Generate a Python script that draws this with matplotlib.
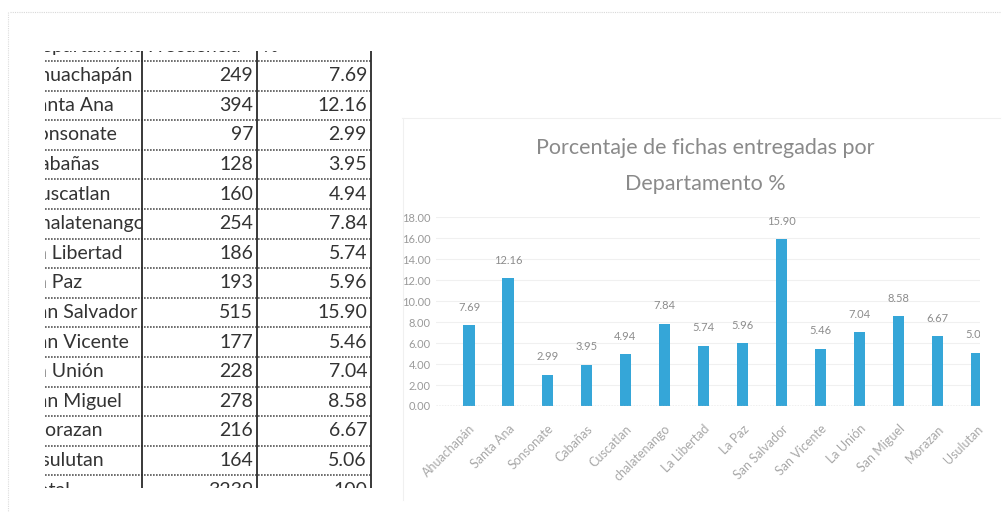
import matplotlib
matplotlib.use("Agg")
import matplotlib.pyplot as plt
from matplotlib.lines import Line2D
from matplotlib.patches import Rectangle
import numpy as np

plt.rcParams['font.family'] = ['Lato', 'DejaVu Sans']

# data
departamentos = ['Ahuachapán', 'Santa Ana', 'Sonsonate', 'Cabañas', 'Cuscatlan', 'Chalatenango',
                 'La Libertad', 'La Paz', 'San Salvador', 'San Vicente', 'La Unión', 'San Miguel',
                 'Morazan', 'Usulutan']
etiquetas_grafico = ['Ahuachapán', 'Santa Ana', 'Sonsonate', 'Cabañas', 'Cuscatlan', 'chalatenango',
                     'La Libertad', 'La Paz', 'San Salvador', 'San Vicente', 'La Unión', 'San Miguel',
                     'Morazan', 'Usulutan']
frecuencia = [249, 394, 97, 128, 160, 254, 186, 193, 515, 177, 228, 278, 216, 164]
porcentaje = [7.69, 12.16, 2.99, 3.95, 4.94, 7.84, 5.74, 5.96, 15.90, 5.46, 7.04, 8.58, 6.67, 5.06]
encabezado = ['Departamento', 'Frecuencia', '%']
total_frec = 3239
total_pct = 100
titulo = 'Porcentaje de fichas entregadas por\nDepartamento %'

W, H = 1006, 522
fig = plt.figure(figsize=(W / 100, H / 100), dpi=100)
fig.patch.set_facecolor('white')


def box(x0, y0, x1, y1):
    # pixel box (top-left origin) -> figure rect
    return [x0 / W, 1 - y1 / H, (x1 - x0) / W, (y1 - y0) / H]


def fig_line(xs, ys, **kw):
    fig.add_artist(Line2D([x / W for x in xs], [1 - y / H for y in ys], transform=fig.transFigure, **kw))


# faint scan borders
fig_line([10, 1000], [12, 12], color='#d8d8d8', lw=0.8, ls=(0, (1, 1)))
fig_line([8, 8], [12, 512], color='#dcdcdc', lw=0.8, ls=(0, (1, 1)))
fig_line([402, 1000], [118, 118], color='#f0f0f0', lw=0.8)
fig_line([403, 403], [118, 500], color='#f0f0f0', lw=0.8)

# ---------------- table (cropped) ----------------
top, bottom = 51, 488
tx = fig.add_axes(box(45, top, 374, bottom))
tx.set_xlim(45, 374)
tx.set_ylim(bottom, top)
tx.axis('off')

row_h = 29.6
y_head = 61
col_x = [142, 257, 371]
name_x = 27
txt_color = '#333333'
fs = 14

rows = [(r, departamentos[r], str(frecuencia[r]), '%.2f' % porcentaje[r]) for r in range(len(departamentos))]
rows.append((len(departamentos), 'Total', str(total_frec), str(total_pct)))


def first_col_clip():
    return Rectangle((45, top), col_x[0] - 45, bottom - top, transform=tx.transData)


# header
hy = y_head - row_h / 2
t = tx.text(name_x, hy, encabezado[0], fontsize=fs, color=txt_color, va='center', ha='left', clip_on=True)
t.set_clip_path(first_col_clip())
tx.text(col_x[0] + 5, hy, encabezado[1], fontsize=fs, color=txt_color, va='center', ha='left', clip_on=True)
tx.text(col_x[1] + 5, hy, encabezado[2], fontsize=fs, color=txt_color, va='center', ha='left', clip_on=True)

for r, name, f, p in rows:
    yc = y_head + (r + 0.5) * row_h
    t = tx.text(name_x, yc, name, fontsize=fs, color=txt_color, va='center', ha='left', clip_on=True)
    t.set_clip_path(first_col_clip())
    tx.text(col_x[1] - 4, yc, f, fontsize=fs, color=txt_color, va='center', ha='right', clip_on=True)
    tx.text(col_x[2] - 4, yc, p, fontsize=fs, color=txt_color, va='center', ha='right', clip_on=True)

for r in range(len(departamentos) + 1):
    yl = y_head + r * row_h
    tx.plot([45, 372], [yl, yl], color='#555555', lw=1.2, ls=(0, (1, 0.8)), clip_on=True)
for xv in col_x:
    tx.plot([xv, xv], [top, bottom], color='#2a2a2a', lw=1.3, clip_on=True)

# ---------------- bar chart ----------------
x = np.arange(len(porcentaje))
ax = fig.add_axes(box(436, 217.2, 980, 406))
ax.bar(x, porcentaje, width=0.29, color='#35a6d8', zorder=3)
ax.set_ylim(0, 18)
ax.set_xlim(-0.846, 13.08)
ax.set_yticks(np.arange(0, 19, 2))
ax.set_yticklabels(['%.2f' % v for v in np.arange(0, 19, 2)])
ax.set_xticks(x)
ax.set_xticklabels(etiquetas_grafico, rotation=45, ha='right', rotation_mode='anchor')
ax.tick_params(axis='y', length=0, labelsize=8, labelcolor='#9a9a9a', pad=4)
ax.tick_params(axis='x', length=0, labelsize=9, labelcolor='#a8a8a8', pad=12)
for s in ax.spines.values():
    s.set_visible(False)
ax.yaxis.grid(True, color='#f0f0f0', lw=0.8, zorder=0)
ax.axhline(0, color='#b5b5b5', lw=1.0, ls=(0, (1, 1)), zorder=4)

for xi, v in zip(x, porcentaje):
    ax.annotate('%.2f' % v, (xi, v), xytext=(0, 9), textcoords='offset points',
                ha='center', va='bottom', fontsize=8, color='#8c8c8c', clip_on=True)

fig.text(705 / W, 1 - 166 / H, titulo, ha='center', va='center', fontsize=15.5,
         color='#8a8a8a', linespacing=2.05)

fig.savefig('out.png', dpi=100, facecolor='white')
